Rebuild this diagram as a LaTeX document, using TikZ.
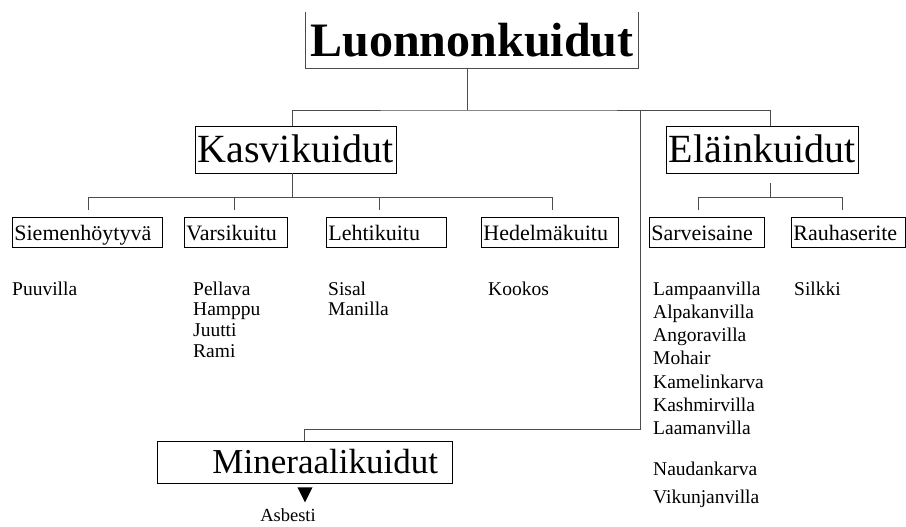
\documentclass[tikz,border=0pt]{standalone}
\usepackage{fontspec}
\setmainfont{Liberation Serif}

\tikzset{
  topbox/.style={inner sep=0pt,minimum width=332pt,minimum height=56pt,font=\fontsize{48}{54}\selectfont\bfseries},
  bigbox/.style={draw,line width=0.8pt,inner sep=0pt,minimum height=47pt,font=\fontsize{40}{46}\selectfont,text height=25pt,text depth=0pt},
  subbox/.style={draw,line width=0.8pt,anchor=west,inner xsep=2pt,inner ysep=0pt,minimum height=30pt,align=left,font=\fontsize{22}{26}\selectfont,text height=16pt,text depth=0pt},
  item/.style={anchor=base west,inner sep=0pt,font=\fontsize{19.5}{22}\selectfont},
  link/.style={line width=0.8pt,draw=black!70}
}

\begin{document}
\begin{tikzpicture}[x=1pt,y=-1pt]
\useasboundingbox (0,0) rectangle (906,527);

\node[topbox] (luonnon) at (472,40) {Luonnonkuidut};
\node[bigbox,minimum width=201pt] (kasvi) at (295.5,149.5) {Kasvikuidut};
\node[bigbox,minimum width=192pt] (elain) at (762,149.5) {Eläinkuidut};
\node[bigbox,minimum height=42pt,inner xsep=14pt,text width=267pt,align=right,
  font=\fontsize{35}{40}\selectfont,text height=22pt] (mineraali) at (304.5,462) {Mineraalikuidut};

\node[subbox,text width=146pt] (siemen) at (12,232) {Siemenhöytyvä};
\node[subbox,text width=99pt] (varsi) at (184,232) {Varsikuitu};
\node[subbox,text width=116pt] (lehti) at (326,232) {Lehtikuitu};
\node[subbox,text width=133pt] (hedelma) at (481,232) {Hedelmäkuitu};
\node[subbox,text width=111pt] (sarvi) at (649,232) {Sarveisaine};
\node[subbox,text width=110pt] (rauha) at (791,232) {Rauhaserite};

\node[item] (puuvilla) at (12,295) {Puuvilla};
\foreach \t [count=\i from 0] in {Pellava,Hamppu,Juutti,Rami}
  \node[item] (varsi\i) at (193,295+20.7*\i) {\t};
\node[item] (sisal) at (328,295) {Sisal};
\node[item] (manilla) at (328,315.7) {Manilla};
\node[item] (kookos) at (488,295) {Kookos};
\foreach \t [count=\i from 0] in {Lampaanvilla,Alpakanvilla,Angoravilla,Mohair,Kamelinkarva,Kashmirvilla,Laamanvilla}
  \node[item] (sarvi\i) at (653,295+23.3*\i) {\t};
\node[item] (naudan) at (653,475) {Naudankarva};
\node[item] (vikunja) at (653,503) {Vikunjanvilla};
\node[item] (silkki) at (794,295) {Silkki};
\node[item,anchor=base,font=\fontsize{18.5}{22}\selectfont] (asbesti) at (288,521) {Asbesti};

\draw[link] (luonnon.north west) -- (luonnon.south west) -- (luonnon.south east) -- (luonnon.north east);

\coordinate (tjoint) at (467,110);
\coordinate (kjoint) at (292,197);
\coordinate (ejoint) at (770,197);
\coordinate (mjoint) at (640,110);
\coordinate (mbend) at (640,429);

\draw[link] (luonnon.south -| tjoint) -- (tjoint);
\draw[link] (kasvi.north -| kjoint) |- (tjoint) -| (elain.north -| ejoint);
\draw[link] (mjoint) -- (mbend) -| (mineraali.north);
\draw[link] (kasvi.south -| kjoint) -- (kjoint);
\draw[link,shorten <=10pt] (elain.south -| ejoint) -- (ejoint);

\foreach \c/\dx in {siemen/1,varsi/-2,lehti/-7,hedelma/2}
  \draw[link,shorten >=7pt] (kjoint) -| ([xshift=\dx pt]\c.north);
\foreach \c/\dx in {sarvi/-9,rauha/-6}
  \draw[link,shorten >=7pt] (ejoint) -| ([xshift=\dx pt]\c.north);

\fill ([shift={(-7,4)}]mineraali.south) -- ++(15,0) -- ++(-7.5,15) -- cycle;

\end{tikzpicture}
\end{document}
